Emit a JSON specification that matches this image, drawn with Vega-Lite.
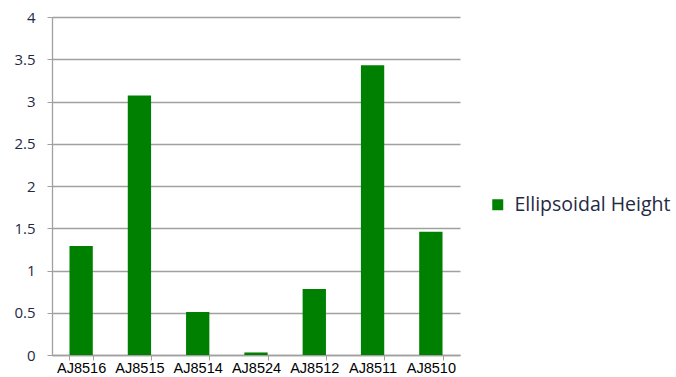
{
  "$schema": "https://vega.github.io/schema/vega-lite/v6.json",
  "width": 408,
  "height": 338,
  "autosize": {"type": "none"},
  "padding": {"left": 52, "top": 17, "right": 216, "bottom": 22},
  "background": "white",
  "data": {"values": [
    {"station": "AJ8516", "series": "Ellipsoidal Height", "value": 1.29},
    {"station": "AJ8515", "series": "Ellipsoidal Height", "value": 3.07},
    {"station": "AJ8514", "series": "Ellipsoidal Height", "value": 0.51},
    {"station": "AJ8524", "series": "Ellipsoidal Height", "value": 0.03},
    {"station": "AJ8512", "series": "Ellipsoidal Height", "value": 0.78},
    {"station": "AJ8511", "series": "Ellipsoidal Height", "value": 3.43},
    {"station": "AJ8510", "series": "Ellipsoidal Height", "value": 1.46}
  ]},
  "mark": {"type": "bar"},
  "encoding": {
    "x": {
      "field": "station", "type": "nominal", "sort": null,
      "scale": {"paddingInner": 0.6, "paddingOuter": 0.3},
      "axis": {
        "title": null, "labelAngle": 0, "tickBand": "extent",
        "domainColor": "#a0a0a0", "tickColor": "#a0a0a0", "tickSize": 5,
        "labelFont": "Liberation Sans", "labelFontSize": 14.5, "labelColor": "#000000",
        "labelPadding": 1
      }
    },
    "y": {
      "field": "value", "type": "quantitative",
      "scale": {"domain": [0, 4]},
      "axis": {
        "title": null, "values": [0, 0.5, 1, 1.5, 2, 2.5, 3, 3.5, 4], "format": "~g",
        "grid": true, "gridColor": "#a0a0a0", "domainColor": "#a0a0a0",
        "tickColor": "#a0a0a0", "tickSize": 5,
        "labelFont": "Open Sans", "labelFontSize": 15, "labelColor": "#1f2a44",
        "labelPadding": 12
      }
    },
    "color": {
      "field": "series", "type": "nominal",
      "scale": {"range": ["#008000"]},
      "legend": {
        "title": null, "orient": "none", "legendX": 436, "legendY": 178,
        "symbolType": "square", "symbolSize": 121, "symbolStrokeWidth": 0,
        "labelFont": "Open Sans", "labelFontSize": 19.5, "labelColor": "#1f2a44",
        "labelOffset": 7
      }
    }
  },
  "config": {"view": {"stroke": null}, "axis": {"gridWidth": 1.3, "domainWidth": 1.3}}
}
